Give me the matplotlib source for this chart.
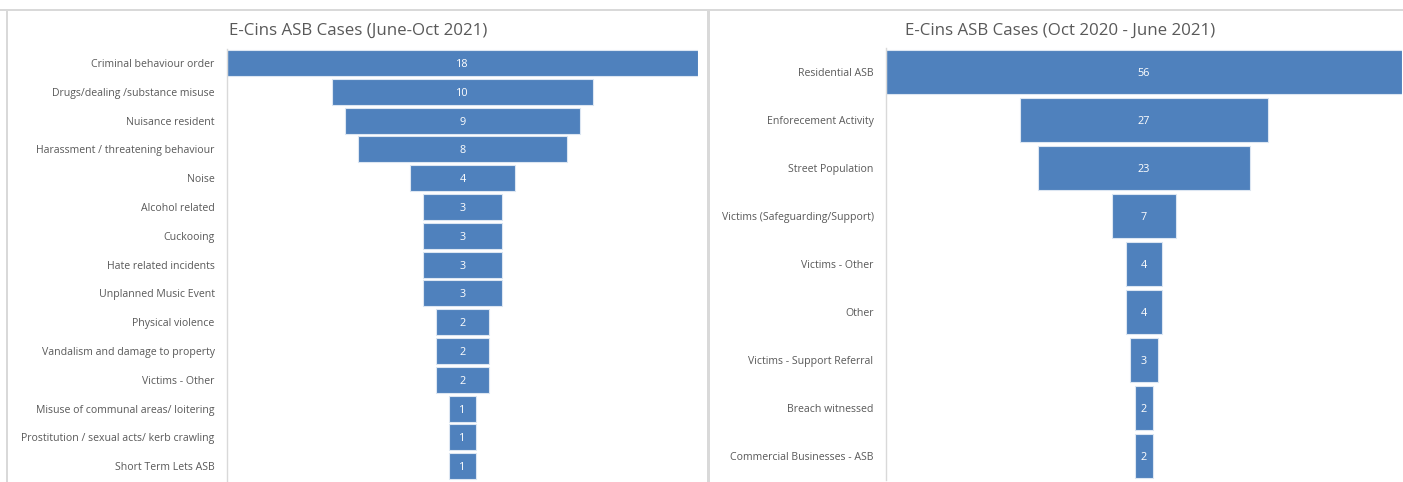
import matplotlib.pyplot as plt
from matplotlib.patches import Rectangle

# left funnel: June-Oct 2021
cats_21 = ['Criminal behaviour order', 'Drugs/dealing /substance misuse', 'Nuisance resident',
           'Harassment / threatening behaviour', 'Noise', 'Alcohol related', 'Cuckooing',
           'Hate related incidents', 'Unplanned Music Event', 'Physical violence',
           'Vandalism and damage to property', 'Victims - Other',
           'Misuse of communal areas/ loitering', 'Prostitution / sexual acts/ kerb crawling',
           'Short Term Lets ASB']
vals_21 = [18, 10, 9, 8, 4, 3, 3, 3, 3, 2, 2, 2, 1, 1, 1]

# right funnel: Oct 2020 - June 2021
cats_20 = ['Residential ASB', 'Enforecement Activity', 'Street Population',
           'Victims (Safeguarding/Support)', 'Victims - Other', 'Other',
           'Victims - Support Referral', 'Breach witnessed', 'Commercial Businesses - ASB']
vals_20 = [56, 27, 23, 7, 4, 4, 3, 2, 2]

BLUE = '#4f81bd'
TXT = '#595959'
FONT = 'Open Sans'

W, H = 1403, 482
fig = plt.figure(figsize=(W / 100, H / 100), dpi=100)
fig.patch.set_facecolor('white')


def px(x0, y0, x1, y1):
    # pixel box -> figure fraction [left, bottom, width, height]
    return [x0 / W, 1 - y1 / H, (x1 - x0) / W, (y1 - y0) / H]


def funnel(ax, cats, vals, bar_h, label_size):
    n = len(vals)
    y = list(range(n))
    lefts = [-v / 2 for v in vals]
    bars = ax.barh(y, vals, left=lefts, height=bar_h, color=BLUE,
                   edgecolor='#dce6f2', linewidth=0.8)
    for b, v in zip(bars, vals):
        ax.text(b.get_x() + b.get_width() / 2, b.get_y() + b.get_height() / 2, str(v),
                ha='center', va='center_baseline', color='white', fontsize=7.8, family=FONT)
    m = max(vals) / 2
    ax.set_xlim(-m, m)
    ax.set_ylim(n - 0.5, -0.5)
    ax.set_yticks(y)
    ax.set_yticklabels(cats, fontsize=label_size, color=TXT, family=FONT)
    ax.tick_params(axis='y', length=0, pad=9)
    ax.set_xticks([])
    for s in ['top', 'right', 'bottom']:
        ax.spines[s].set_visible(False)
    ax.spines['left'].set_color('#d9d9d9')
    ax.spines['left'].set_linewidth(1.0)
    ax.set_facecolor('none')


ax1 = fig.add_axes(px(227, 48.6, 698, 480.6))
funnel(ax1, cats_21, vals_21, 0.9, 7.6)
ax2 = fig.add_axes(px(886, 48, 1402, 480))
funnel(ax2, cats_20, vals_20, 0.92, 7.6)

fig.text(358 / W, 1 - 31 / H, 'E-Cins ASB Cases (June-Oct 2021)', ha='center', va='center',
         fontsize=12.2, color=TXT, family=FONT)
fig.text(1060 / W, 1 - 31 / H, 'E-Cins ASB Cases (Oct 2020 - June 2021)', ha='center',
         va='center', fontsize=12.2, color=TXT, family=FONT)

# chart frame lines
grey = '#d9d9d9'
fig.add_artist(Rectangle((0, 1 - 11 / H), 1, 2 / H, transform=fig.transFigure,
                         color=grey, lw=0))
fig.add_artist(Rectangle((6 / W, 0), 2 / W, 1 - 10 / H, transform=fig.transFigure,
                         color=grey, lw=0))
fig.add_artist(Rectangle((707 / W, 0), 3 / W, 1 - 10 / H, transform=fig.transFigure,
                         color=grey, lw=0))

fig.savefig('out.png', dpi=100)
